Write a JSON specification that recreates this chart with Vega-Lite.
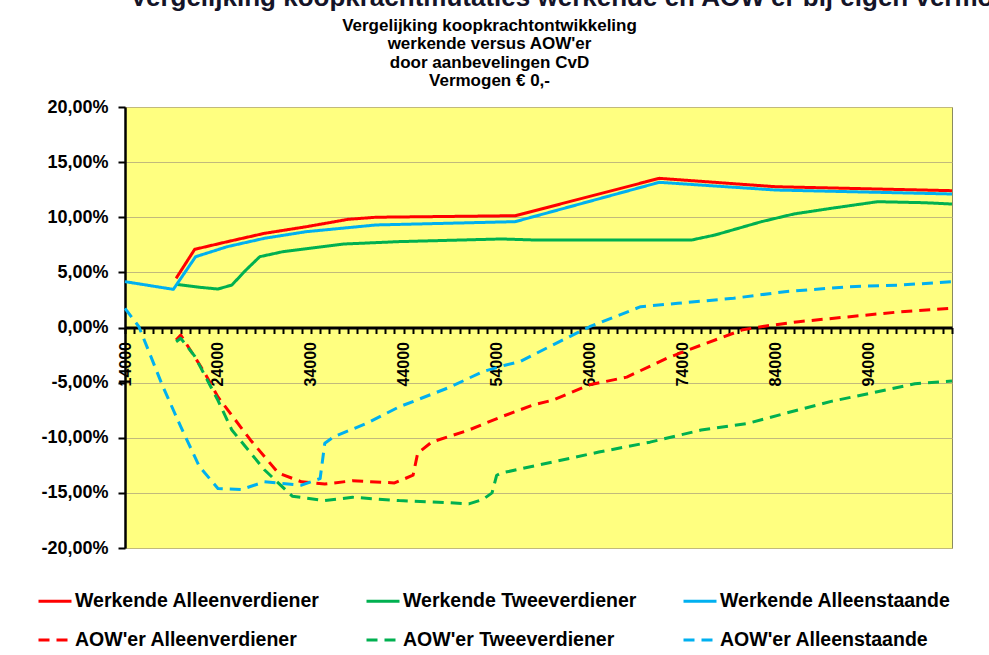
{
  "$schema": "https://vega.github.io/schema/vega-lite/v6.json",
  "autosize": "none",
  "width": 827,
  "height": 441,
  "padding": {"left": 125, "top": 107, "right": 37, "bottom": 107},
  "background": "white",
  "config": {
    "font": "Liberation Sans",
    "view": {"fill": "#FFFF80", "stroke": "#8A8A60", "strokeWidth": 1}
  },
  "title": {
    "text": ["Vergelijking koopkrachtontwikkeling", "werkende  versus AOW'er", "door aanbevelingen CvD", "Vermogen € 0,-"],
    "anchor": "middle",
    "frame": "group",
    "dx": -49,
    "offset": -105,
    "font": "Liberation Sans",
    "fontSize": 17,
    "fontWeight": "bold",
    "lineHeight": 18.5,
    "color": "black"
  },
  "data": {
    "values": [
      {"serie": "Werkende Alleenverdiener", "inkomen": 19500, "mutatie": 0.0446},
      {"serie": "Werkende Alleenverdiener", "inkomen": 21500, "mutatie": 0.0709},
      {"serie": "Werkende Alleenverdiener", "inkomen": 25000, "mutatie": 0.0778},
      {"serie": "Werkende Alleenverdiener", "inkomen": 29000, "mutatie": 0.0854},
      {"serie": "Werkende Alleenverdiener", "inkomen": 33500, "mutatie": 0.0914},
      {"serie": "Werkende Alleenverdiener", "inkomen": 38000, "mutatie": 0.0981},
      {"serie": "Werkende Alleenverdiener", "inkomen": 41000, "mutatie": 0.1000},
      {"serie": "Werkende Alleenverdiener", "inkomen": 56000, "mutatie": 0.1014},
      {"serie": "Werkende Alleenverdiener", "inkomen": 71500, "mutatie": 0.1353},
      {"serie": "Werkende Alleenverdiener", "inkomen": 84000, "mutatie": 0.1277},
      {"serie": "Werkende Alleenverdiener", "inkomen": 103000, "mutatie": 0.1241},

      {"serie": "Werkende Tweeverdiener", "inkomen": 19500, "mutatie": 0.0392},
      {"serie": "Werkende Tweeverdiener", "inkomen": 22000, "mutatie": 0.0365},
      {"serie": "Werkende Tweeverdiener", "inkomen": 24000, "mutatie": 0.0349},
      {"serie": "Werkende Tweeverdiener", "inkomen": 25500, "mutatie": 0.0385},
      {"serie": "Werkende Tweeverdiener", "inkomen": 27000, "mutatie": 0.0520},
      {"serie": "Werkende Tweeverdiener", "inkomen": 28500, "mutatie": 0.0642},
      {"serie": "Werkende Tweeverdiener", "inkomen": 31000, "mutatie": 0.0688},
      {"serie": "Werkende Tweeverdiener", "inkomen": 37500, "mutatie": 0.0757},
      {"serie": "Werkende Tweeverdiener", "inkomen": 43500, "mutatie": 0.0779},
      {"serie": "Werkende Tweeverdiener", "inkomen": 54500, "mutatie": 0.0803},
      {"serie": "Werkende Tweeverdiener", "inkomen": 58000, "mutatie": 0.0794},
      {"serie": "Werkende Tweeverdiener", "inkomen": 75000, "mutatie": 0.0794},
      {"serie": "Werkende Tweeverdiener", "inkomen": 77500, "mutatie": 0.0839},
      {"serie": "Werkende Tweeverdiener", "inkomen": 82500, "mutatie": 0.0960},
      {"serie": "Werkende Tweeverdiener", "inkomen": 86000, "mutatie": 0.1030},
      {"serie": "Werkende Tweeverdiener", "inkomen": 90000, "mutatie": 0.1081},
      {"serie": "Werkende Tweeverdiener", "inkomen": 95000, "mutatie": 0.1141},
      {"serie": "Werkende Tweeverdiener", "inkomen": 100000, "mutatie": 0.1132},
      {"serie": "Werkende Tweeverdiener", "inkomen": 103000, "mutatie": 0.1120},

      {"serie": "Werkende Alleenstaande", "inkomen": 14000, "mutatie": 0.0416},
      {"serie": "Werkende Alleenstaande", "inkomen": 19200, "mutatie": 0.0346},
      {"serie": "Werkende Alleenstaande", "inkomen": 21600, "mutatie": 0.0642},
      {"serie": "Werkende Alleenstaande", "inkomen": 25000, "mutatie": 0.0733},
      {"serie": "Werkende Alleenstaande", "inkomen": 29000, "mutatie": 0.0809},
      {"serie": "Werkende Alleenstaande", "inkomen": 33500, "mutatie": 0.0869},
      {"serie": "Werkende Alleenstaande", "inkomen": 41000, "mutatie": 0.0930},
      {"serie": "Werkende Alleenstaande", "inkomen": 56000, "mutatie": 0.0960},
      {"serie": "Werkende Alleenstaande", "inkomen": 71500, "mutatie": 0.1317},
      {"serie": "Werkende Alleenstaande", "inkomen": 84000, "mutatie": 0.1247},
      {"serie": "Werkende Alleenstaande", "inkomen": 103000, "mutatie": 0.1211},

      {"serie": "AOW'er Alleenverdiener", "inkomen": 19500, "mutatie": -0.0113},
      {"serie": "AOW'er Alleenverdiener", "inkomen": 20000, "mutatie": -0.0068},
      {"serie": "AOW'er Alleenverdiener", "inkomen": 22500, "mutatie": -0.0400},
      {"serie": "AOW'er Alleenverdiener", "inkomen": 24000, "mutatie": -0.0630},
      {"serie": "AOW'er Alleenverdiener", "inkomen": 27500, "mutatie": -0.1020},
      {"serie": "AOW'er Alleenverdiener", "inkomen": 30500, "mutatie": -0.1320},
      {"serie": "AOW'er Alleenverdiener", "inkomen": 33000, "mutatie": -0.1400},
      {"serie": "AOW'er Alleenverdiener", "inkomen": 35500, "mutatie": -0.1420},
      {"serie": "AOW'er Alleenverdiener", "inkomen": 38500, "mutatie": -0.1390},
      {"serie": "AOW'er Alleenverdiener", "inkomen": 43000, "mutatie": -0.1410},
      {"serie": "AOW'er Alleenverdiener", "inkomen": 45000, "mutatie": -0.1340},
      {"serie": "AOW'er Alleenverdiener", "inkomen": 45500, "mutatie": -0.1140},
      {"serie": "AOW'er Alleenverdiener", "inkomen": 47000, "mutatie": -0.1040},
      {"serie": "AOW'er Alleenverdiener", "inkomen": 51000, "mutatie": -0.0930},
      {"serie": "AOW'er Alleenverdiener", "inkomen": 54500, "mutatie": -0.0810},
      {"serie": "AOW'er Alleenverdiener", "inkomen": 58000, "mutatie": -0.0700},
      {"serie": "AOW'er Alleenverdiener", "inkomen": 60000, "mutatie": -0.0660},
      {"serie": "AOW'er Alleenverdiener", "inkomen": 64000, "mutatie": -0.0520},
      {"serie": "AOW'er Alleenverdiener", "inkomen": 68000, "mutatie": -0.0450},
      {"serie": "AOW'er Alleenverdiener", "inkomen": 72300, "mutatie": -0.0280},
      {"serie": "AOW'er Alleenverdiener", "inkomen": 76000, "mutatie": -0.0160},
      {"serie": "AOW'er Alleenverdiener", "inkomen": 80500, "mutatie": -0.0020},
      {"serie": "AOW'er Alleenverdiener", "inkomen": 83000, "mutatie": 0.0014},
      {"serie": "AOW'er Alleenverdiener", "inkomen": 86500, "mutatie": 0.0053},
      {"serie": "AOW'er Alleenverdiener", "inkomen": 92000, "mutatie": 0.0098},
      {"serie": "AOW'er Alleenverdiener", "inkomen": 97500, "mutatie": 0.0143},
      {"serie": "AOW'er Alleenverdiener", "inkomen": 103000, "mutatie": 0.0174},

      {"serie": "AOW'er Tweeverdiener", "inkomen": 19500, "mutatie": -0.0129},
      {"serie": "AOW'er Tweeverdiener", "inkomen": 20000, "mutatie": -0.0098},
      {"serie": "AOW'er Tweeverdiener", "inkomen": 21500, "mutatie": -0.0260},
      {"serie": "AOW'er Tweeverdiener", "inkomen": 24000, "mutatie": -0.0660},
      {"serie": "AOW'er Tweeverdiener", "inkomen": 25500, "mutatie": -0.0930},
      {"serie": "AOW'er Tweeverdiener", "inkomen": 29000, "mutatie": -0.1290},
      {"serie": "AOW'er Tweeverdiener", "inkomen": 32000, "mutatie": -0.1530},
      {"serie": "AOW'er Tweeverdiener", "inkomen": 35500, "mutatie": -0.1570},
      {"serie": "AOW'er Tweeverdiener", "inkomen": 38500, "mutatie": -0.1540},
      {"serie": "AOW'er Tweeverdiener", "inkomen": 43500, "mutatie": -0.1570},
      {"serie": "AOW'er Tweeverdiener", "inkomen": 49000, "mutatie": -0.1590},
      {"serie": "AOW'er Tweeverdiener", "inkomen": 51000, "mutatie": -0.1600},
      {"serie": "AOW'er Tweeverdiener", "inkomen": 52500, "mutatie": -0.1560},
      {"serie": "AOW'er Tweeverdiener", "inkomen": 53500, "mutatie": -0.1500},
      {"serie": "AOW'er Tweeverdiener", "inkomen": 54000, "mutatie": -0.1340},
      {"serie": "AOW'er Tweeverdiener", "inkomen": 54500, "mutatie": -0.1320},
      {"serie": "AOW'er Tweeverdiener", "inkomen": 60000, "mutatie": -0.1220},
      {"serie": "AOW'er Tweeverdiener", "inkomen": 65000, "mutatie": -0.1130},
      {"serie": "AOW'er Tweeverdiener", "inkomen": 70500, "mutatie": -0.1040},
      {"serie": "AOW'er Tweeverdiener", "inkomen": 76000, "mutatie": -0.0930},
      {"serie": "AOW'er Tweeverdiener", "inkomen": 81000, "mutatie": -0.0870},
      {"serie": "AOW'er Tweeverdiener", "inkomen": 85000, "mutatie": -0.0780},
      {"serie": "AOW'er Tweeverdiener", "inkomen": 90000, "mutatie": -0.0670},
      {"serie": "AOW'er Tweeverdiener", "inkomen": 94000, "mutatie": -0.0600},
      {"serie": "AOW'er Tweeverdiener", "inkomen": 99000, "mutatie": -0.0510},
      {"serie": "AOW'er Tweeverdiener", "inkomen": 103000, "mutatie": -0.0485},

      {"serie": "AOW'er Alleenstaande", "inkomen": 14000, "mutatie": 0.0174},
      {"serie": "AOW'er Alleenstaande", "inkomen": 15500, "mutatie": 0.0007},
      {"serie": "AOW'er Alleenstaande", "inkomen": 18000, "mutatie": -0.0520},
      {"serie": "AOW'er Alleenstaande", "inkomen": 20000, "mutatie": -0.0900},
      {"serie": "AOW'er Alleenstaande", "inkomen": 22000, "mutatie": -0.1260},
      {"serie": "AOW'er Alleenstaande", "inkomen": 24000, "mutatie": -0.1460},
      {"serie": "AOW'er Alleenstaande", "inkomen": 26500, "mutatie": -0.1470},
      {"serie": "AOW'er Alleenstaande", "inkomen": 29000, "mutatie": -0.1400},
      {"serie": "AOW'er Alleenstaande", "inkomen": 33000, "mutatie": -0.1430},
      {"serie": "AOW'er Alleenstaande", "inkomen": 35000, "mutatie": -0.1370},
      {"serie": "AOW'er Alleenstaande", "inkomen": 35500, "mutatie": -0.1050},
      {"serie": "AOW'er Alleenstaande", "inkomen": 36500, "mutatie": -0.0990},
      {"serie": "AOW'er Alleenstaande", "inkomen": 40000, "mutatie": -0.0870},
      {"serie": "AOW'er Alleenstaande", "inkomen": 43500, "mutatie": -0.0720},
      {"serie": "AOW'er Alleenstaande", "inkomen": 49000, "mutatie": -0.0540},
      {"serie": "AOW'er Alleenstaande", "inkomen": 52500, "mutatie": -0.0400},
      {"serie": "AOW'er Alleenstaande", "inkomen": 55000, "mutatie": -0.0340},
      {"serie": "AOW'er Alleenstaande", "inkomen": 56500, "mutatie": -0.0310},
      {"serie": "AOW'er Alleenstaande", "inkomen": 60000, "mutatie": -0.0160},
      {"serie": "AOW'er Alleenstaande", "inkomen": 64000, "mutatie": 0.0007},
      {"serie": "AOW'er Alleenstaande", "inkomen": 69500, "mutatie": 0.0189},
      {"serie": "AOW'er Alleenstaande", "inkomen": 73500, "mutatie": 0.0219},
      {"serie": "AOW'er Alleenstaande", "inkomen": 79500, "mutatie": 0.0265},
      {"serie": "AOW'er Alleenstaande", "inkomen": 85000, "mutatie": 0.0325},
      {"serie": "AOW'er Alleenstaande", "inkomen": 92000, "mutatie": 0.0370},
      {"serie": "AOW'er Alleenstaande", "inkomen": 97500, "mutatie": 0.0385},
      {"serie": "AOW'er Alleenstaande", "inkomen": 103000, "mutatie": 0.0416}
    ]
  },
  "layer": [
    {
      "mark": {"type": "line", "strokeWidth": 3, "strokeJoin": "round"},
      "encoding": {
        "x": {
          "field": "inkomen",
          "type": "quantitative",
          "scale": {"domain": [14000, 103000], "nice": false, "zero": false},
          "axis": {
            "orient": "bottom",
            "offset": -220.5,
            "title": null,
            "grid": false,
            "tickCount": 200,
            "values": [14000,15000,16000,17000,18000,19000,20000,21000,22000,23000,24000,25000,26000,27000,28000,29000,30000,31000,32000,33000,34000,35000,36000,37000,38000,39000,40000,41000,42000,43000,44000,45000,46000,47000,48000,49000,50000,51000,52000,53000,54000,55000,56000,57000,58000,59000,60000,61000,62000,63000,64000,65000,66000,67000,68000,69000,70000,71000,72000,73000,74000,75000,76000,77000,78000,79000,80000,81000,82000,83000,84000,85000,86000,87000,88000,89000,90000,91000,92000,93000,94000,95000,96000,97000,98000,99000,100000,101000,102000,103000],
            "labelExpr": "(datum.value - 14000) % 10000 == 0 ? '' + datum.value : ''",
            "labelAngle": -90,
            "labelFont": "Liberation Sans",
            "labelFontSize": 16,
            "labelFontWeight": "bold",
            "labelColor": "black",
            "labelPadding": 8,
            "labelOverlap": false,
            "labelFlush": false,
            "labelBound": false,
            "tickSize": 6,
            "tickWidth": 2,
            "tickColor": "black",
            "domainColor": "black",
            "domainWidth": 3
          }
        },
        "y": {
          "field": "mutatie",
          "type": "quantitative",
          "scale": {"domain": [-0.2, 0.2], "nice": false, "zero": false},
          "axis": {
            "title": null,
            "tickCount": 20,
            "values": [-0.2, -0.15, -0.1, -0.05, 0, 0.05, 0.1, 0.15, 0.2],
            "labelExpr": "replace(replace(format(datum.value, '.2%'), '.', ','), '\u2212', '-')",
            "labelFont": "Liberation Sans",
            "labelFontSize": 18,
            "labelFontWeight": "bold",
            "labelColor": "black",
            "labelPadding": 10,
            "labelFlush": false,
            "tickSize": 7,
            "tickWidth": 2,
            "tickColor": "black",
            "domainColor": "black",
            "domainWidth": 2.5,
            "grid": true,
            "gridColor": "#C2BA7C",
            "gridWidth": 1
          }
        },
        "color": {
          "field": "serie",
          "type": "nominal",
          "scale": {
            "domain": ["Werkende Alleenverdiener", "Werkende Tweeverdiener", "Werkende Alleenstaande", "AOW'er Alleenverdiener", "AOW'er Tweeverdiener", "AOW'er Alleenstaande"],
            "range": ["#FF0000", "#00B050", "#00B0F0", "#FF0000", "#00B050", "#00B0F0"]
          },
          "legend": {
            "title": null,
            "orient": "none",
            "legendX": -88,
            "legendY": 476,
            "direction": "horizontal",
            "columns": 3,
            "symbolType": "stroke",
            "symbolSize": 1089,
            "symbolStrokeWidth": 3,
            "labelFont": "Liberation Sans",
            "labelFontSize": 19.5,
            "labelFontWeight": "bold",
            "labelColor": "black",
            "labelLimit": 400,
            "labelOffset": 2,
            "columnPadding": 40,
            "rowPadding": 11,
            "padding": 0
          }
        },
        "strokeDash": {
          "field": "serie",
          "type": "nominal",
          "scale": {
            "domain": ["Werkende Alleenverdiener", "Werkende Tweeverdiener", "Werkende Alleenstaande", "AOW'er Alleenverdiener", "AOW'er Tweeverdiener", "AOW'er Alleenstaande"],
            "range": [[1, 0], [1, 0], [1, 0], [11, 7], [11, 7], [11, 7]]
          },
          "legend": {
            "title": null,
            "orient": "none",
            "legendX": -88,
            "legendY": 476,
            "direction": "horizontal",
            "columns": 3,
            "symbolType": "stroke",
            "symbolSize": 1089,
            "symbolStrokeWidth": 3,
            "labelFont": "Liberation Sans",
            "labelFontSize": 19.5,
            "labelFontWeight": "bold",
            "labelColor": "black",
            "labelLimit": 400,
            "labelOffset": 2,
            "columnPadding": 40,
            "rowPadding": 11,
            "padding": 0
          }
        }
      }
    },
    {
      "data": {"values": [{}]},
      "mark": {"type": "text", "align": "left", "baseline": "alphabetic", "font": "Liberation Sans", "fontSize": 26, "fontWeight": "bold", "color": "#141428"},
      "encoding": {
        "x": {"datum": 14540},
        "y": {"datum": 0.2916},
        "text": {"value": "Vergelijking koopkrachtmutaties werkende en AOW'er bij eigen vermogen"}
      }
    }
  ]
}
